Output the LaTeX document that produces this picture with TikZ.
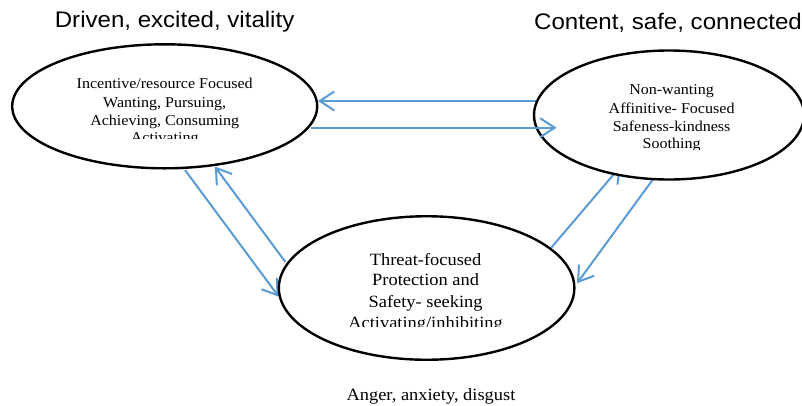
\documentclass[tikz,border=0pt]{standalone}
\usepackage{fontspec}
\usetikzlibrary{arrows.meta,shapes.geometric}
\newfontfamily\tnr[FakeStretch=1.07]{Liberation Serif}
\newfontfamily\arl[FakeStretch=1.07]{Liberation Sans}
\definecolor{arrblue}{HTML}{5B9BD5}
\begin{document}
\begin{tikzpicture}[x=1pt,y=-1pt,
  ell/.style={ellipse, draw=black, line width=2.4pt, fill=white, inner sep=0pt},
  arr/.style={draw=arrblue, line width=2pt, -{Straight Barb[length=14.5pt,width=19pt]}},
  smalltxt/.style={font=\tnr\fontsize{15}{19}\selectfont, anchor=base, inner sep=0pt},
  bigtxt/.style={font=\tnr\fontsize{17.2}{21}\selectfont, anchor=base, inner sep=0pt},
  headtxt/.style={font=\arl\fontsize{22.5}{27}\selectfont, anchor=base, inner sep=0pt}]
\useasboundingbox (0,0) rectangle (802,405);
% arrow end points
\coordinate (a1s) at (536,101);   \coordinate (a1e) at (318,101);
\coordinate (a2s) at (310.5,127.7); \coordinate (a2e) at (556.5,127.7);
\coordinate (a3s) at (185,170);   \coordinate (a3e) at (278.8,296.7);
\coordinate (a4s) at (285.4,262); \coordinate (a4e) at (214.8,166.5);
\coordinate (a5s) at (551.4,247.5); \coordinate (a5e) at (620.8,166);
\coordinate (a6s) at (653.7,178.3); \coordinate (a6e) at (577,283.3);
% arrows behind the ellipses
\draw[arr] (a1s) -- (a1e);
\draw[arr] (a3s) -- (a3e);
\draw[arr] (a4s) -- (a4e);
\draw[arr] (a5s) -- (a5e);
\draw[arr] (a6s) -- (a6e);
% ellipses
\node[ell, minimum width=305pt, minimum height=124pt] (L) at (164.7,106.3) {};
\node[ell, minimum width=270pt, minimum height=129pt] (R) at (669,115) {};
\node[ell, minimum width=295.5pt, minimum height=143.5pt] (B) at (426.6,288) {};
% arrow on top
\draw[arr] (a2s) -- (a2e);
% texts
\begin{scope}
\clip (0,0) rectangle (802,138.3);
\node[smalltxt] (l1) at (164.7,88.5) {Incentive/resource Focused};
\node[smalltxt] (l2) at (164.7,107) {Wanting, Pursuing,};
\node[smalltxt] (l3) at (164.7,125.5) {Achieving, Consuming};
\node[smalltxt] (l4) at (164.7,142.5) {Activating};
\end{scope}
\begin{scope}
\clip (0,0) rectangle (802,149.3);
\node[smalltxt] (r1) at (671.6,94.3) {Non-wanting};
\node[smalltxt] (r2) at (671.6,113) {Affinitive- Focused};
\node[smalltxt] (r3) at (671.6,131) {Safeness-kindness};
\node[smalltxt] (r4) at (671.6,148.3) {Soothing};
\end{scope}
\begin{scope}
\clip (0,0) rectangle (802,326.5);
\node[bigtxt] (b1) at (425.6,265) {Threat-focused};
\node[bigtxt] (b2) at (425.6,285.7) {Protection and};
\node[bigtxt] (b3) at (425.6,307) {Safety- seeking};
\node[bigtxt] (b4) at (425.6,328) {Activating/inhibiting};
\end{scope}
\node[headtxt] (hl) at (174.6,27) {Driven, excited, vitality};
\node[headtxt] (hr) at (668,29) {Content, safe, connected};
\node[bigtxt] (ha) at (431,400) {Anger, anxiety, disgust};
\end{tikzpicture}
\end{document}
